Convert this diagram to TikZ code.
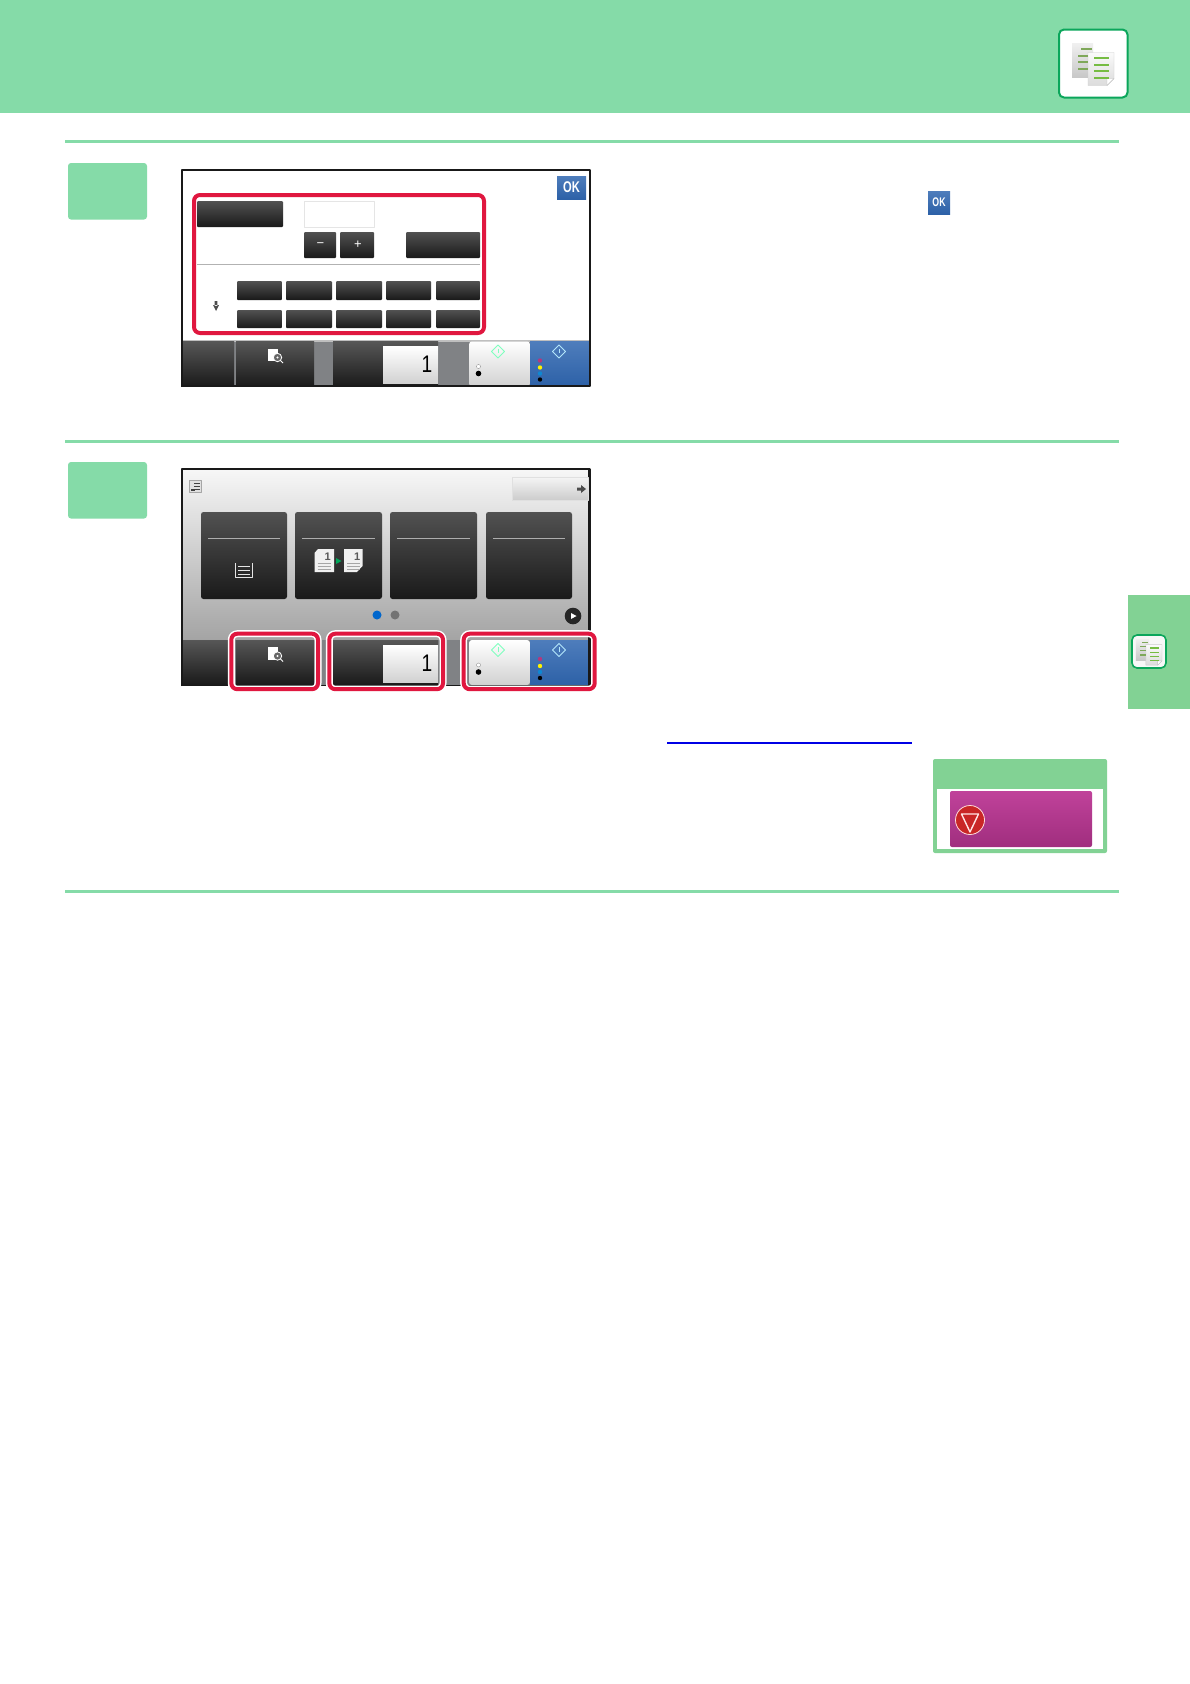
\documentclass[tikz,border=0pt]{standalone}
\usepackage{fontspec}
\setmainfont{Liberation Sans}
\definecolor{headgreen}{HTML}{85DBA8}
\definecolor{notegreen}{HTML}{82D294}
\definecolor{framegreen}{HTML}{0BA65B}
\definecolor{marksred}{HTML}{E0173F}
\definecolor{bargray}{HTML}{808285}
\definecolor{okblue}{HTML}{2F66B0}
\definecolor{frontbar}{HTML}{76BC43}
\definecolor{backbar}{HTML}{7FA85A}
\definecolor{pinktop}{HTML}{C0429A}
\definecolor{pinkbottom}{HTML}{A02E7E}
\tikzset{
	darkbtn/.style={top color=black!66, bottom color=black!90, draw=none},
	cardbtn/.style={top color=black!68, bottom color=black!90, rounded corners=2.5pt},
	whitebtn/.style={top color=white, bottom color=black!18},
	bluebtn/.style={top color=okblue!85, bottom color=okblue!95!black},
	markbox/.style={draw=marksred, line width=4pt, rounded corners=6pt},
	halobox/.style={draw=white, line width=7pt, rounded corners=6pt},
	iconbox/.style={fill=white, draw=framegreen, rounded corners=5pt},
	lettering/.style={white, inner sep=0pt, transform shape},
	copyicon/.pic={
		\shade[top color=black!6, bottom color=black!22] (-21,-20) rectangle (0,14);
		\shade[top color=black!2, bottom color=black!14, draw=black!20, line width=0.4pt]
			(-5,-11) -- (21,-11) -- (21,15) -- (14,22) -- (-5,22) -- cycle;
		\fill[white, draw=black!25, line width=0.4pt] (21,15) -- (14,15) -- (14,22) -- cycle;
		\foreach \barx/\barX/\bary in {-12/-1/-14.5, -15/-5/-7.5, -15/-5/-1.5, -15/-5/5.5}
			\fill[backbar] (\barx,\bary-1) rectangle (\barX,\bary+1);
		\foreach \bary in {-5.5,1.5,7.5,14.5}
			\fill[frontbar] (1,\bary-1) rectangle (16,\bary+1);
	},
	magnify/.pic={
		\fill[white] (0,0) rectangle (10,12.5);
		\draw[fill=black!60, draw=white, line width=0.8pt] (9.5,9) circle (4.2);
		\fill[white] (9.5,9) circle (1.2);
		\draw[white, line width=0.9pt] (12.5,12) -- (15,14.5);
	},
	startmark/.pic={
		\draw[line width=0.8pt] (0,-6.5) -- (6.5,0) -- (0,6.5) -- (-6.5,0) -- cycle;
		\draw[line width=0.7pt] (0,-3) -- (0,1.5);
	},
	controlbar/.pic={
		\fill[bargray] (0,0) rectangle (409,45);
		\shade[darkbtn] (0,0) rectangle (53,45);
		\shade[darkbtn] (55,0) rectangle (133,45);
		\shade[darkbtn] (152,0) rectangle (257,45);
		\shade[whitebtn] (202,5) rectangle (257,42);
		\shade[whitebtn, rounded corners=3pt] (288,0) rectangle (349,45);
		\shade[bluebtn] (349,0) rectangle (409,45);
		\path (87,7) pic {magnify};
		\node[lettering, text=black, xscale=0.8] (countnum) at (246,23) {\fontsize{24}{24}\selectfont 1};
		\path (317,10) pic[draw=green!50!cyan!50!white] {startmark};
		\path (378,10) pic[draw=cyan!30!white] {startmark};
		\fill[white, draw=black!50, line width=0.3pt] (297.5,25) circle (2);
		\fill[black] (297.5,32) circle (2.8);
		\foreach \dotcolor/\doty in {magenta!70!black/19, yellow/26, cyan!70!blue/32, black/38}
			\fill[\dotcolor] (359,\doty) circle (2.2);
	}
}
\begin{document}
\begin{tikzpicture}[x=1pt, y=-1pt, line join=round, line cap=butt, >=stealth]
	\useasboundingbox (0,0) rectangle (1190,1684);
	\fill[white] (0,0) rectangle (1190,1684);
	\fill[headgreen] (0,0) rectangle (1190,113);
	\draw[iconbox, line width=2pt] (1059,29.5) rectangle (1127.5,97.5);
	\path (1093,63.5) pic {copyicon};

	\fill[notegreen] (1128,595) rectangle (1190,709);
	\draw[iconbox, fill=black!3, line width=1.6pt] (1132,635) rectangle (1166,668);
	\path (1149,651.5) pic[scale=0.62] {copyicon};

	\foreach \ruley in {141,441,891}
		\fill[headgreen] (65,\ruley-1.5) rectangle (1119,\ruley+1.5);
	\foreach \stepy in {163,462}
		\fill[headgreen, rounded corners=3pt] (68,\stepy) rectangle (147,\stepy+56.5);

	% first screen
	\fill[white] (182,170) rectangle (590,386);
	\shade[bluebtn] (557,176) rectangle (586,199);
	\node[lettering, xscale=0.72] (okbig) at (571.5,187.5) {\fontsize{15.5}{15.5}\selectfont\bfseries OK};
	\shade[cardbtn, rounded corners=1pt] (197,201) rectangle (283,227);
	\draw[black!10, fill=white] (304,201) rectangle (374,227);
	\foreach \btnx/\btnX in {304/336, 340/374, 406/480}
		\shade[cardbtn, rounded corners=1pt] (\btnx,232) rectangle (\btnX,258);
	\node[white, inner sep=0pt] (minusbtn) at (320.5,245) {\fontsize{13}{13}\selectfont −};
	\node[white, inner sep=0pt] (plusbtn) at (358,245) {\fontsize{13}{13}\selectfont +};
	\draw[black!30, line width=1pt] (197,264) -- (480,264);
	\foreach \btnx/\btnX in {237/282, 286/332, 336/382, 386/431, 436/480}
		\foreach \btny/\btnY in {281/300, 310/328}
			\shade[cardbtn, rounded corners=1pt] (\btnx,\btny) rectangle (\btnX,\btnY);
	\fill[black!70] (214.7,301) rectangle (217.3,306) (213,305) -- (219,305) -- (216,311) -- cycle;
	\draw[markbox] (194,195) rectangle (484,333);
	\fill[black!25] (182,340) rectangle (590,342);
	\path (181,341.5) pic {controlbar};
	\draw[black!90, line width=2pt] (182,170) rectangle (590,386);

	% second screen
	\shade[top color=black!3, bottom color=black!36] (181,468) rectangle (590,641);
	\path (181,640) pic {controlbar};
	\draw[black!90, line width=2.5pt] (182,686) -- (182,469) -- (589.5,469) -- (589.5,686);
	\draw[black!90, line width=1pt] (181,685.5) -- (590,685.5);
	\fill[black!12, draw=black!35, line width=0.5pt] (189,480) rectangle (201,492);
	\foreach \liney in {483,486,489}
		\draw[black!75, line width=0.9pt] (194,\liney) -- (200,\liney);
	\fill[black!75] (190.5,490.5) rectangle (194.5,488.5);
	\shade[top color=black!4, bottom color=black!20, draw=black!12, line width=0.5pt] (512,477) rectangle (588,500);
	\fill[black!70] (577,487.5) -- (581,487.5) -- (581,485) -- (586,489) -- (581,493) -- (581,490.5) -- (577,490.5) -- cycle;
	\foreach \cardx/\cardX in {201/287, 295/382, 390/477, 486/572} {
		\shade[cardbtn] (\cardx,512) rectangle (\cardX,599);
		\draw[black!32, line width=0.9pt] (\cardx+7,538.5) -- (\cardX-7,538.5);
	}
	\draw[white!90!black, line width=0.9pt] (235.5,563) -- (235.5,577.5) -- (252.5,577.5) -- (252.5,563);
	\foreach \liney in {566.7,570.7,574.7}
		\draw[white!90!black, line width=1.4pt] (238,\liney) -- (250,\liney);
	\fill[black!6] (318,549) -- (334,549) -- (334,572) -- (314.5,572) -- (314.5,553) -- cycle;
	\fill[black!6] (344,549) -- (362.5,549) -- (362.5,566) -- (357,572) -- (344,572) -- cycle;
	\foreach \docx in {314.5,344} {
		\node[inner sep=0pt, text=black!65] (pagenum\docx) at (\docx+13.3,557) {\fontsize{11}{11}\selectfont\bfseries 1};
		\foreach \liney in {563,566,569}
			\draw[black!35, line width=0.6pt] (\docx+3,\liney) -- (\docx+16,\liney);
	}
	\fill[teal!70!green] (336,558) -- (341.5,561) -- (336,564) -- cycle;
	\fill[blue!50!cyan!80!black] (377,615) circle (4.5);
	\fill[black!55] (395,615) circle (4.5);
	\fill[black!85] (573,616) circle (8.3);
	\fill[white] (571,613) -- (576.5,616) -- (571,619) -- cycle;
	\foreach \boxx/\boxX in {231.3/318, 329.3/443, 463.7/594.7}
		\draw[halobox] (\boxx,633.7) rectangle (\boxX,689.2);
	\foreach \boxx/\boxX in {231.3/318, 329.3/443, 463.7/594.7}
		\draw[markbox] (\boxx,633.7) rectangle (\boxX,689.2);

	% small ok, link, note
	\shade[bluebtn] (928,191) rectangle (950,214);
	\node[lettering, xscale=0.7] (oksmall) at (939,202.5) {\fontsize{12.5}{12.5}\selectfont\bfseries OK};
	\draw[blue!90!black, line width=1.4pt] (667,743) -- (912,743);
	\fill[notegreen, rounded corners=2pt] (933,759) rectangle (1107,853);
	\fill[white] (937,789) rectangle (1103,849);
	\shade[top color=pinktop, bottom color=pinkbottom, rounded corners=2pt] (950,791) rectangle (1092,847);
	\fill[red!75!black!85!white, draw=white!85!red, line width=0.8pt] (970,820) circle (14.5);
	\draw[white!90!red, line width=1.4pt] (961.5,814) -- (978.5,814) -- (970,832) -- cycle;
\end{tikzpicture}
\end{document}
